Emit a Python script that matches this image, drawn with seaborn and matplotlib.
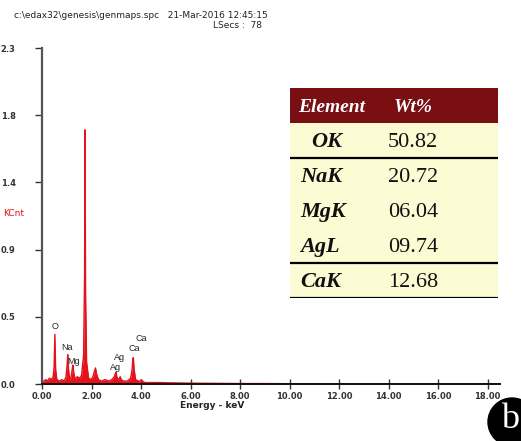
import matplotlib
matplotlib.use("Agg")
import matplotlib.pyplot as plt
import seaborn as sns
import pandas as pd
from matplotlib.patches import Rectangle, Ellipse

# EDS spectrum (energy in keV, counts in K)
energy_kev = [0.00, 0.08, 0.15, 0.22, 0.30, 0.38, 0.45, 0.49, 0.52, 0.55, 0.60, 0.70, 0.80,
              0.90, 0.97, 1.01, 1.04, 1.07, 1.12, 1.18, 1.22, 1.25, 1.28, 1.34, 1.42, 1.52,
              1.60, 1.68, 1.72, 1.74, 1.76, 1.80, 1.88, 1.98, 2.06, 2.12, 2.16, 2.20, 2.28,
              2.40, 2.55, 2.70, 2.82, 2.92, 2.96, 2.99, 3.02, 3.08, 3.13, 3.16, 3.20, 3.30,
              3.45, 3.58, 3.64, 3.67, 3.69, 3.72, 3.78, 3.90, 3.98, 4.01, 4.05, 4.15, 4.35,
              4.70, 5.20, 5.80, 6.50, 7.30, 8.10, 9.00, 10.0, 11.0, 12.0, 18.5]
kcounts = [0.00, 0.02, 0.03, 0.02, 0.04, 0.03, 0.05, 0.12, 0.34, 0.10, 0.03, 0.02, 0.03,
           0.02, 0.05, 0.12, 0.20, 0.10, 0.03, 0.05, 0.10, 0.13, 0.08, 0.03, 0.05, 0.04,
           0.06, 0.20, 0.75, 1.74, 0.60, 0.15, 0.04, 0.03, 0.05, 0.09, 0.11, 0.07, 0.03,
           0.02, 0.03, 0.02, 0.03, 0.05, 0.07, 0.08, 0.05, 0.03, 0.04, 0.05, 0.03, 0.02,
           0.02, 0.04, 0.10, 0.17, 0.18, 0.10, 0.03, 0.02, 0.02, 0.03, 0.02, 0.01, 0.01,
           0.01, 0.008, 0.006, 0.005, 0.004, 0.003, 0.003, 0.002, 0.002, 0.0, 0.0]

peak_labels = ["O", "Na", "Mg", "Ag", "Ag", "Ca", "Ca"]
peak_energy = [0.52, 1.02, 1.28, 3.12, 2.98, 3.72, 4.00]
peak_height = [0.36, 0.22, 0.12, 0.15, 0.08, 0.21, 0.28]

x_ticks = [0, 2, 4, 6, 8, 10, 12, 14, 16, 18]
y_ticks = [0.0, 0.46, 0.92, 1.38, 1.84, 2.3]
y_tick_labels = ["0.0", "0.5", "0.9", "1.4", "1.8", "2.3"]

elements = ["OK", "NaK", "MgK", "AgL", "CaK"]
wt_pct = ["50.82", "20.72", "06.04", "09.74", "12.68"]

RED = "#e5121b"
W, H = 521, 441

sns.set_style("ticks")
plt.rcParams['font.family'] = ['DejaVu Sans']

fig = plt.figure(figsize=(W / 100, H / 100), dpi=100)
ax = fig.add_axes([42 / W, 1 - 384 / H, 458 / W, 336 / H])

df = pd.DataFrame({"energy": energy_kev, "kcnt": kcounts})
sns.lineplot(data=df, x="energy", y="kcnt", ax=ax, color=RED, lw=1.0,
             estimator=None, sort=False)
ax.fill_between(df["energy"], df["kcnt"], color=RED, lw=0)

for lab, e, h in zip(peak_labels, peak_energy, peak_height):
    ax.text(e, h, lab, fontsize=6.5, color="#222222", ha="center", va="bottom",
            family="Liberation Sans")

ax.set_xlim(0, 18.5)
ax.set_ylim(0, 2.3)
ax.set_xticks(x_ticks)
ax.set_xticklabels(["%.2f" % t for t in x_ticks], fontsize=6, fontweight="bold")
ax.set_yticks(y_ticks)
ax.set_yticklabels(y_tick_labels, fontsize=6, fontweight="bold")
ax.tick_params(axis="y", direction="out", length=5, width=1, pad=14, colors="#333333")
ax.tick_params(axis="x", direction="inout", length=7, width=1, pad=2, colors="#333333")
ax.set_xlabel("")
ax.set_ylabel("")
for s in ["top", "right"]:
    ax.spines[s].set_visible(False)
ax.spines["left"].set_color("#555555")
ax.spines["left"].set_linewidth(1.6)
ax.spines["bottom"].set_color("#111111")
ax.spines["bottom"].set_linewidth(1.4)

# header and axis labels
fig.text(14 / W, 1 - 15 / H, "c:\\edax32\\genesis\\genmaps.spc   21-Mar-2016 12:45:15",
         fontsize=6.5, color="#222222", va="center")
fig.text(262 / W, 1 - 25 / H, "LSecs :  78", fontsize=6.5, color="#222222",
         va="center", ha="right")
fig.text(3 / W, 1 - 213 / H, "KCnt", fontsize=6.5, color=RED, va="center")
fig.text(212 / W, 1 - 406 / H, "Energy - keV", fontsize=6.5, fontweight="bold",
         color="#222222", va="center", ha="center")

# composition table inset
tab = fig.add_axes([290 / W, 1 - 298 / H, 208 / W, 210 / H])
tab.set_xlim(0, 1)
tab.set_ylim(6, 0)
tab.axis("off")
tab.add_patch(Rectangle((0, 0), 1, 1, color="#7a0f13", lw=0))
tab.add_patch(Rectangle((0, 1), 1, 5, color="#fdfbd3", lw=0))
for yl in [2, 5, 6]:
    tab.plot([0, 1], [yl, yl], color="black", lw=1.6, solid_capstyle="butt")
serif = ["Liberation Serif", "DejaVu Serif"]
tab.text(0.2, 0.55, "Element", color="white", fontsize=14, style="italic",
         fontweight="bold", ha="center", va="center", family=serif)
tab.text(0.59, 0.55, "Wt%", color="white", fontsize=14, style="italic",
         fontweight="bold", ha="center", va="center", family=serif)
for i, (el, wt) in enumerate(zip(elements, wt_pct)):
    tab.text(0.1 if i == 0 else 0.05, i + 1.55, el, fontsize=16, style="italic",
             fontweight="bold", ha="left", va="center", family=serif, color="#111111")
    tab.text(0.59, i + 1.55, wt, fontsize=16, ha="center", va="center",
             family=serif, color="#111111")

# panel letter
fig.add_artist(Ellipse((512 / W, 1 - 422 / H), 48 / W, 48 / H,
                       transform=fig.transFigure, color="black"))
fig.text(510 / W, 1 - 419 / H, "b", color="white", fontsize=26, ha="center",
         va="center", family=serif)

fig.savefig("out.png", dpi=100)
